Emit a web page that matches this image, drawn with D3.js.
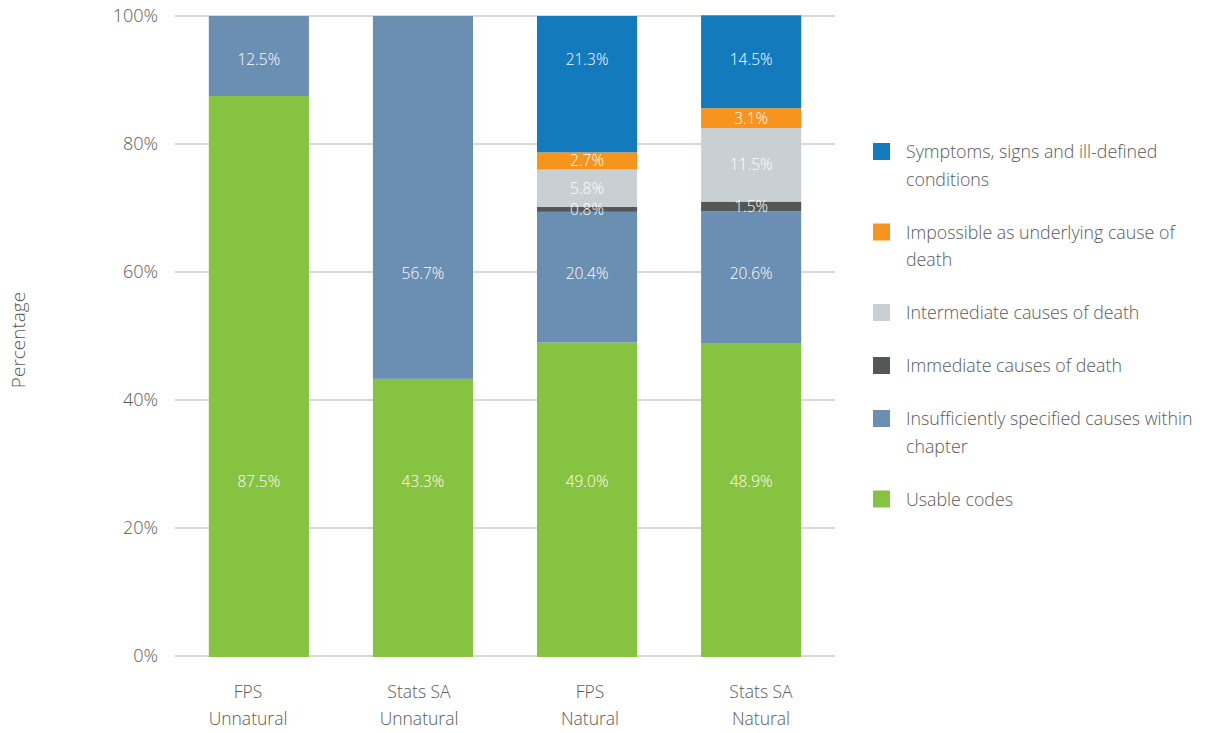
<!DOCTYPE html>
<html><head><meta charset="utf-8">
<script src="https://cdn.jsdelivr.net/npm/d3@7"></script>
<style>
body{margin:0;background:#fff;}
text{font-family:"Open Sans",Lato,sans-serif;font-weight:300;}
</style></head>
<body><svg id="c" width="1218" height="733"></svg>
<script>
const categories = [["FPS","Unnatural"],["Stats SA","Unnatural"],["FPS","Natural"],["Stats SA","Natural"]];
const seriesNames = ["Usable codes","Insufficiently specified causes within chapter","Immediate causes of death","Intermediate causes of death","Impossible as underlying cause of death","Symptoms, signs and ill-defined conditions"];
const usable = [87.5, 43.3, 49.0, 48.9];
const insufficient = [12.5, 56.7, 20.4, 20.6];
const immediate = [0, 0, 0.8, 1.5];
const intermediate = [0, 0, 5.8, 11.5];
const impossible = [0, 0, 2.7, 3.1];
const symptoms = [0, 0, 21.3, 14.5];
// where each value label sits, in percent (null = middle of its segment)
const usableLabelAt = [27.2, 27.2, 27.2, 27.2];
const insufficientLabelAt = [93.2, 59.7, 59.7, 59.7];
const symptomsLabelAt = [null, null, 93.2, 93.2];
const colors = ["#86C341","#6B8FB3","#555757","#C9D0D3","#F7941D","#147ABE"];
const legendLines = [["Usable codes"],["Insufficiently specified causes within","chapter"],["Immediate causes of death"],["Intermediate causes of death"],["Impossible as underlying cause of","death"],["Symptoms, signs and ill-defined","conditions"]];
const yTicks = [0,20,40,60,80,100];

const seriesData = [usable, insufficient, immediate, intermediate, impossible, symptoms];
const labelAt = [usableLabelAt, insufficientLabelAt, null, null, null, symptomsLabelAt];
const svg = d3.select("#c");
const x = d3.scaleBand().domain(d3.range(categories.length)).range([176,834]).paddingInner(0.39).paddingOuter(0.2);
const xLab = d3.scaleBand().domain(d3.range(categories.length)).range([162.5,846.5]);
const y = d3.scaleLinear().domain([0,100]).range([656,16]);
const textCol = "#5a5a5a";

// gridlines
svg.append("g").selectAll("line").data(yTicks).join("line")
  .attr("x1",175).attr("x2",835).attr("y1",d=>y(d)).attr("y2",d=>y(d))
  .attr("stroke","#d9d9d9").attr("stroke-width",2);
svg.append("g").selectAll("text").data(yTicks).join("text")
  .attr("x",158).attr("y",d=>y(d)).attr("dy","0.35em").attr("text-anchor","end")
  .attr("fill",textCol).attr("font-size",18).text(d=>d+"%");

// stacked bars
const rows = categories.map((c,i)=>{const o={i}; seriesData.forEach((s,k)=>o[k]=s[i]); return o;});
const stack = d3.stack().keys(d3.range(seriesData.length))(rows);
const g = svg.append("g");
stack.forEach((layer,k)=>{
  g.append("g").selectAll("rect").data(layer.filter(d=>d[1]-d[0]>0)).join("rect")
    .attr("x",d=>x(d.data.i)).attr("width",x.bandwidth())
    .attr("y",d=>y(d[1])).attr("height",d=>y(d[0])-y(d[1])+(d[0]===0?1:0))
    .attr("fill",colors[k]);
});
stack.forEach((layer,k)=>{
  g.append("g").selectAll("text").data(layer.filter(d=>d[1]-d[0]>0)).join("text")
    .attr("x",d=>x(d.data.i)+x.bandwidth()/2)
    .attr("y",d=>{const a = labelAt[k] && labelAt[k][d.data.i]; return y(a!=null ? a : (d[0]+d[1])/2);})
    .attr("dy","0.35em")
    .attr("text-anchor","middle").attr("fill","#fff").attr("font-size",15.5)
    .text(d=>(d[1]-d[0]).toFixed(1)+"%");
});

// x labels
categories.forEach((c,i)=>{
  const t = svg.append("text").attr("text-anchor","middle").attr("fill",textCol).attr("font-size",17.5);
  c.forEach((line,j)=>t.append("tspan").attr("x",xLab(i)+xLab.bandwidth()/2).attr("y",698+j*27).text(line));
});

// y title
svg.append("text").attr("transform","translate(25,340) rotate(-90)").attr("text-anchor","middle")
  .attr("fill",textCol).attr("font-size",19).text("Percentage");

// legend (top of stack first)
let ly = 152;
const order = d3.range(seriesData.length).reverse();
order.forEach(k=>{
  svg.append("rect").attr("x",873).attr("y",ly-9).attr("width",17).attr("height",17).attr("fill",colors[k]);
  const t = svg.append("text").attr("fill",textCol).attr("font-size",17.8);
  legendLines[k].forEach((line,j)=>t.append("tspan").attr("x",906).attr("y",ly+j*27.5).attr("dy","0.35em").text(line));
  ly += 53 + 27.5*(legendLines[k].length-1);
});
</script></body></html>
